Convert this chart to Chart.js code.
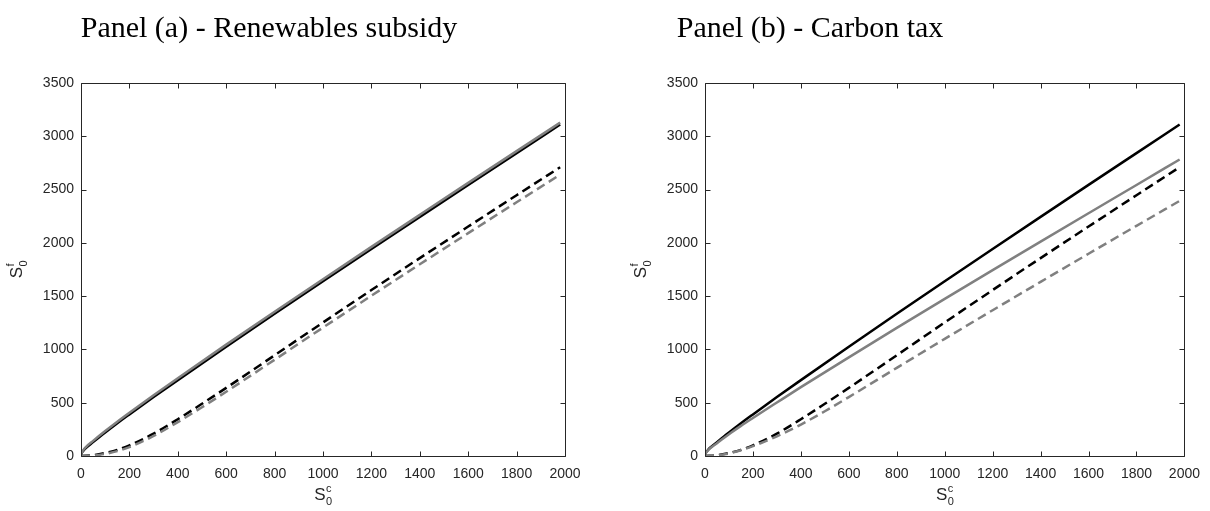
<!DOCTYPE html>
<html><head><meta charset="utf-8">
<script src="https://cdn.jsdelivr.net/npm/chart.js@4.4.1/dist/chart.umd.min.js"></script>
<style>
html,body{margin:0;padding:0;background:#fff;width:1210px;height:511px;overflow:hidden}
canvas{position:absolute;top:0}
#ca{left:0}
#cb{left:605px}
</style></head><body>
<canvas id="ca" width="605" height="511"></canvas>
<canvas id="cb" width="605" height="511"></canvas>
<script>
// ---- data ----
const xTicks = [0,200,400,600,800,1000,1200,1400,1600,1800,2000];
const yTicks = [0,500,1000,1500,2000,2500,3000,3500];
const titles = ['Panel (a) - Renewables subsidy', 'Panel (b) - Carbon tax'];
const xSolid  = [0,2,5,10,20,50,100,150,200,300,400,600,800,1000,1200,1400,1600,1800,1980];
const xDashed = [0,50,100,150,200,300,400,500,600,800,1000,1200,1400,1600,1800,1980];
// Panel (a)
const aBlackSolid  = [0,20,35,50,75,130,220,307,390,553,712,1026,1335,1640,1943,2244,2544,2842,3110];
const aGreySolid   = [0,24,40,57,84,142,234,322,406,570,730,1045,1354,1659,1962,2263,2563,2861,3128];
const aBlackDashed = [0,7,28,58,100,210,345,490,639,945,1253,1557,1857,2153,2447,2710];
const aGreyDashed  = [0,4,20,46,84,188,318,458,603,903,1205,1504,1799,2091,2381,2640];
// Panel (b)
const bBlackSolid  = [0,20,35,50,75,130,220,307,390,553,712,1026,1335,1640,1943,2244,2544,2842,3110];
const bGreySolid   = [0,19,33,47,70,120,205,283,357,502,646,926,1202,1474,1744,2012,2278,2543,2782];
const bBlackDashed = [0,7,28,58,100,210,345,490,639,945,1253,1557,1857,2153,2447,2710];
const bGreyDashed  = [0,6,24,54,92,185,295,420,553,827,1099,1368,1634,1898,2160,2394];

const AXIS = '#262626';
const GREY = '#808080';

function pts(xs, ys){ return xs.map((x,i)=>({x:x, y:ys[i]})); }

function drawSLabel(ctx, x, y, sup, rotate){
  ctx.save();
  ctx.translate(x, y);
  if (rotate) ctx.rotate(-Math.PI/2);
  ctx.fillStyle = AXIS;
  ctx.textAlign = 'left';
  ctx.textBaseline = 'alphabetic';
  ctx.font = '17px "Liberation Sans"';
  const wS = ctx.measureText('S').width;
  ctx.font = '11px "Liberation Sans"';
  const w2 = Math.max(ctx.measureText(sup).width, ctx.measureText('0').width);
  const x0 = -(wS + w2) / 2;
  ctx.font = '17px "Liberation Sans"';
  ctx.fillText('S', x0, 0);
  ctx.font = '11px "Liberation Sans"';
  ctx.fillText(sup, x0 + wS + 0.5, -8);
  ctx.fillText('0', x0 + wS + 0.5, 5);
  ctx.restore();
}

function makePlugin(cfg){
  return {
    id: 'frame',
    afterDatasetsDraw(chart){
      const ctx = chart.ctx, a = chart.chartArea, xs = chart.scales.x, ys = chart.scales.y;
      ctx.save();
      ctx.strokeStyle = AXIS;
      ctx.lineWidth = 1;
      const L = Math.round(a.left)+0.5, R = Math.round(a.right)+0.5, T = Math.round(a.top)+0.5, B = Math.round(a.bottom)+0.5;
      ctx.beginPath();
      ctx.moveTo(L,T); ctx.lineTo(R,T); ctx.lineTo(R,B); ctx.lineTo(L,B); ctx.closePath();
      xs.ticks.forEach(t=>{
        const p = Math.round(xs.getPixelForValue(t.value))+0.5;
        ctx.moveTo(p,B); ctx.lineTo(p,B-5);
        ctx.moveTo(p,T); ctx.lineTo(p,T+5);
      });
      ys.ticks.forEach(t=>{
        const p = Math.round(ys.getPixelForValue(t.value))+0.5;
        ctx.moveTo(L,p); ctx.lineTo(L+5,p);
        ctx.moveTo(R,p); ctx.lineTo(R-5,p);
      });
      ctx.stroke();
      ctx.restore();
      // axis titles
      drawSLabel(ctx, (a.left+a.right)/2, 500, 'c', false);
      drawSLabel(ctx, cfg.yLabelX, (a.top+a.bottom)/2, 'f', true);
      // panel title
      ctx.save();
      ctx.fillStyle = '#000';
      ctx.font = '30px "Liberation Serif"';
      ctx.textAlign = 'center';
      ctx.textBaseline = 'alphabetic';
      ctx.fillText(cfg.title, cfg.titleX, 37);
      ctx.restore();
    }
  };
}

function makeChart(id, series, cfg){
  const ds = [
    {data: pts(xSolid, series[0]), borderColor:'#000', borderWidth:2.5, order:2},
    {data: pts(xSolid, series[1]), borderColor:GREY, borderWidth:2.5, order:1},
    {data: pts(xDashed, series[2]), borderColor:'#000', borderWidth:2.5, borderDash:[9,5], order:2},
    {data: pts(xDashed, series[3]), borderColor:GREY, borderWidth:2.5, borderDash:[9,5], order:1}
  ].map(d=>Object.assign(d, {pointRadius:0, fill:false, cubicInterpolationMode:'monotone', borderCapStyle:'butt'}));
  return new Chart(document.getElementById(id), {
    type:'line',
    data:{datasets: ds},
    options:{
      responsive:false, animation:false, devicePixelRatio:1,
      layout:{padding:{left:0, top:83, right:cfg.padRight, bottom:15}},
      plugins:{legend:{display:false}, tooltip:{enabled:false}, title:{display:false}},
      scales:{
        x:{type:'linear', min:0, max:2000,
           afterBuildTicks:s=>{s.ticks = xTicks.map(v=>({value:v}));},
           ticks:{color:AXIS, font:{family:'Liberation Sans', size:14}, padding:10, maxRotation:0, autoSkip:false,
                  callback:v=>String(v)},
           grid:{display:false, drawTicks:false}, border:{display:false},
           afterFit:s=>{s.height = 40;}},
        y:{type:'linear', min:0, max:3500,
           afterBuildTicks:s=>{s.ticks = yTicks.map(v=>({value:v}));},
           ticks:{color:AXIS, font:{family:'Liberation Sans', size:14}, padding:7, autoSkip:false,
                  callback:v=>String(v)},
           grid:{display:false, drawTicks:false}, border:{display:false},
           afterFit:s=>{s.width = cfg.yWidth;}}
      }
    },
    plugins:[makePlugin(cfg)]
  });
}

makeChart('ca', [aBlackSolid, aGreySolid, aBlackDashed, aGreyDashed],
  {padRight:40, yWidth:81, yLabelX:22, title:titles[0], titleX:269});
makeChart('cb', [bBlackSolid, bGreySolid, bBlackDashed, bGreyDashed],
  {padRight:21, yWidth:100, yLabelX:41, title:titles[1], titleX:205});
</script>
</body></html>
